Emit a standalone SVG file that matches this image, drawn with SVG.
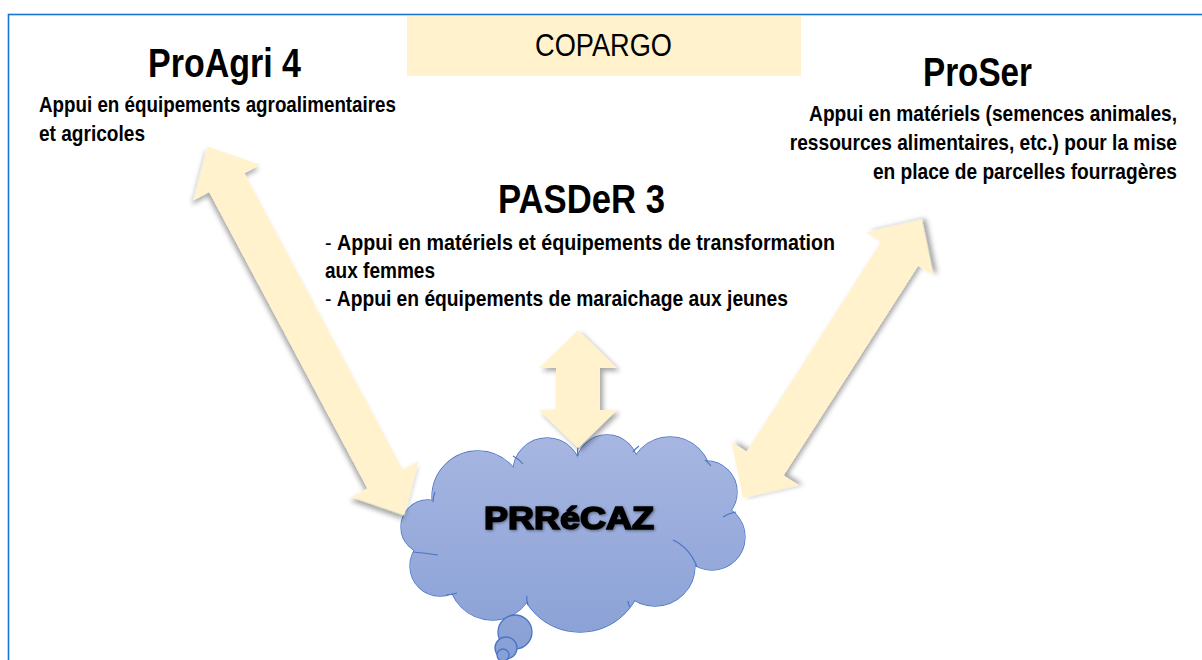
<svg xmlns="http://www.w3.org/2000/svg" xmlns:xlink="http://www.w3.org/1999/xlink" width="1202" height="660" viewBox="0 0 1202 660">
<style>
.t{font-family:"Liberation Sans Narrow","Liberation Sans",Arial,sans-serif;fill:#000}
.h{font-size:40px;font-weight:bold}
.s{font-size:22px;font-weight:bold}
.n{font-weight:normal}
.arrow{fill:#fff2cc;stroke:none;filter:url(#sh)}
.lobeS{fill:url(#cg);stroke:#4a74c6;stroke-width:1.3}
.lobeF{fill:url(#cg);stroke:none}
.inner{fill:none;stroke:#4a74c6;stroke-width:1.2}
</style>
<defs>
<filter id="sh" x="-20%" y="-20%" width="140%" height="140%">
<feDropShadow dx="3" dy="3" stdDeviation="2.5" flood-color="#000" flood-opacity="0.35"/>
</filter>
<filter id="tsh" x="-20%" y="-40%" width="140%" height="180%">
<feDropShadow dx="1" dy="1" stdDeviation="1.5" flood-color="#000" flood-opacity="0.45"/>
</filter>
<linearGradient id="cg" gradientUnits="userSpaceOnUse" x1="0" y1="435" x2="0" y2="665">
<stop offset="0" stop-color="#a7b6e1"/>
<stop offset="1" stop-color="#879fd5"/>
</linearGradient>
<g id="lobes">
<circle cx="428" cy="527" r="27"/>
<circle cx="478" cy="497" r="46"/>
<circle cx="547" cy="472" r="34"/>
<circle cx="607" cy="466" r="31"/>
<circle cx="670" cy="478" r="41"/>
<circle cx="706" cy="492" r="31"/>
<circle cx="712" cy="537" r="33"/>
<circle cx="655" cy="566" r="40"/>
<circle cx="580" cy="569" r="63"/>
<circle cx="492" cy="577" r="43"/>
<circle cx="440" cy="566" r="30"/>
<ellipse cx="575" cy="530" rx="140" ry="60"/>
</g>
</defs>
<rect x="8.5" y="14.5" width="1220" height="700" fill="none" stroke="#1874cd" stroke-width="1.6"/>

<g id="copargo">
<rect x="407" y="16" width="394" height="60" fill="#fff2cc"/>
<text class="t" x="603.5" y="56" text-anchor="middle" font-size="32" textLength="137" lengthAdjust="spacingAndGlyphs">COPARGO</text>
</g>

<g id="proagri">
<text class="t h" x="224.5" y="77" text-anchor="middle" textLength="153" lengthAdjust="spacingAndGlyphs">ProAgri 4</text>
<text class="t s" x="39" y="112" textLength="357" lengthAdjust="spacingAndGlyphs">Appui en équipements agroalimentaires</text>
<text class="t s" x="39" y="141" textLength="106" lengthAdjust="spacingAndGlyphs">et agricoles</text>
</g>

<g id="proser">
<text class="t h" x="977.5" y="86" text-anchor="middle" textLength="109" lengthAdjust="spacingAndGlyphs">ProSer</text>
<text class="t s" transform="translate(1177,121) scale(0.84,1)" x="0" y="0" text-anchor="end" textLength="438" lengthAdjust="spacingAndGlyphs">Appui en matériels (semences animales,</text>
<text class="t s" transform="translate(1177,150) scale(0.84,1)" x="0" y="0" text-anchor="end" textLength="461" lengthAdjust="spacingAndGlyphs">ressources alimentaires, etc.) pour la mise</text>
<text class="t s" transform="translate(1177,179) scale(0.84,1)" x="0" y="0" text-anchor="end" textLength="362" lengthAdjust="spacingAndGlyphs">en place de parcelles fourragères</text>
</g>

<g id="pasder">
<text class="t h" x="581.5" y="213" text-anchor="middle" textLength="167" lengthAdjust="spacingAndGlyphs">PASDeR 3</text>
<text class="t s" x="325" y="250" textLength="510" lengthAdjust="spacingAndGlyphs"><tspan class="n">- </tspan>Appui en matériels et équipements de transformation</text>
<text class="t s" x="325" y="278" textLength="110" lengthAdjust="spacingAndGlyphs">aux femmes</text>
<text class="t s" x="325" y="306" textLength="463" lengthAdjust="spacingAndGlyphs"><tspan class="n">- </tspan>Appui en équipements de maraichage aux jeunes</text>
</g>

<g id="prrecaz">
<use xlink:href="#lobes" class="lobeS"/>
<use xlink:href="#lobes" class="lobeF"/>
<path class="inner" d="M513,456 Q519,459 523,464"/>
<path class="inner" d="M578,447 Q577,451 578,456"/>
<path class="inner" d="M633,452 Q635,449 639,446"/>
<path class="inner" d="M705,460 Q708,462 711,466"/>
<path class="inner" d="M723,517 Q729,513 736,512"/>
<path class="inner" d="M673,540 Q690,548 697,567"/>
<path class="inner" d="M630,607 Q628,604 628,601"/>
<path class="inner" d="M528,605 Q526,600 527,596"/>
<path class="inner" d="M457,593 Q451,595 446,595"/>
<path class="inner" d="M413,552 Q425,553 438,555"/>
<path class="inner" d="M433,502 Q433,497 435,492"/>
<circle cx="515" cy="632" r="17" class="lobeS"/>
<circle cx="506" cy="648" r="11" class="lobeS"/>
<circle cx="503" cy="655" r="6" class="lobeS"/>
<text class="t" x="569" y="529" text-anchor="middle" font-size="31" font-weight="900" stroke="#000" stroke-width="1.6" textLength="170" lengthAdjust="spacingAndGlyphs" filter="url(#tsh)">PRRéCAZ</text>
</g>

<g id="connectors">
<path class="arrow" transform="translate(207.5,146.5) rotate(61.9)" d="M0,0 L41,-38 L41,-20 L377,-20 L377,-38 L418,0 L377,38 L377,20 L41,20 L41,38 Z"/>
<path class="arrow" transform="translate(743,498) rotate(-57.3)" d="M0,0 L41,-40 L41,-22 L290,-22 L290,-40 L331,0 L290,40 L290,22 L41,22 L41,40 Z"/>
<path class="arrow" d="M578,330 L617,368 L600,368 L600,410 L617,410 L578,448 L539,410 L556,410 L556,368 L539,368 Z"/>
</g>
</svg>
